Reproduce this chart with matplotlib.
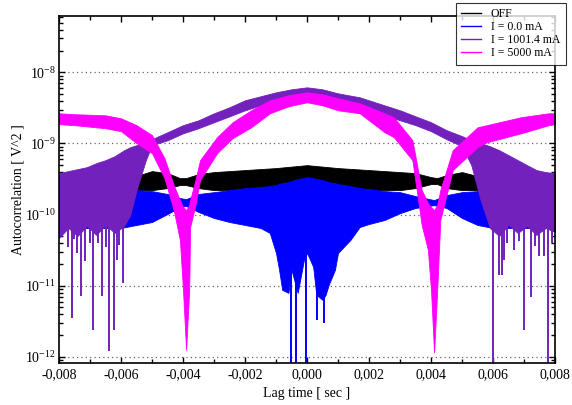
import numpy as np
import matplotlib
matplotlib.use("Agg")
import matplotlib.pyplot as plt
from matplotlib.lines import Line2D
from matplotlib.ticker import FuncFormatter, MultipleLocator, LogLocator, NullFormatter, FixedLocator

# envelope of each autocorrelation trace (upper / lower edge of the dense oscillation)
off_x = [-0.008, -0.0055, -0.005, -0.0045, -0.0041, -0.0039, -0.0035, -0.003, -0.002, -0.001, 0.0,
         0.001, 0.002, 0.003, 0.0035, 0.004, 0.0042, 0.0045, 0.005, 0.0055, 0.008]
off_hi = [3.48e-10, 3.48e-10, 4.09e-10, 3.83e-10, 3.26e-10, 3.26e-10, 3.71e-10, 3.96e-10, 4.23e-10, 4.51e-10, 4.96e-10,
          4.51e-10, 4.23e-10, 3.96e-10, 3.83e-10, 3.37e-10, 3.26e-10, 3.59e-10, 3.96e-10, 3.48e-10, 3.48e-10]
off_lo = [2.21e-10, 2.21e-10, 2.21e-10, 2.36e-10, 2.60e-10, 2.60e-10, 2.36e-10, 2.21e-10, 2.21e-10, 2.21e-10, 2.21e-10,
          2.21e-10, 2.21e-10, 2.21e-10, 2.36e-10, 2.69e-10, 2.69e-10, 2.36e-10, 2.21e-10, 2.21e-10, 2.21e-10]

i0_x = [-0.008, -0.006, -0.0055, -0.005, -0.0045, -0.0041, -0.0039, -0.0035, -0.003, -0.0025,
        -0.002, -0.0015, -0.0012, -0.001, -0.0009, -0.0008, -0.0006, -0.0005, -0.0003, -0.0001,
        0.0, 0.0002, 0.0003, 0.0005, 0.0006, 0.0007, 0.0009, 0.001, 0.0014, 0.0017,
        0.002, 0.0025, 0.003, 0.0035, 0.0041, 0.0045, 0.005, 0.0055, 0.006, 0.008]
i0_hi = [2.07e-10, 2.21e-10, 2.21e-10, 2.14e-10, 1.95e-10, 1.71e-10, 1.65e-10, 1.95e-10, 2.07e-10, 2.21e-10,
         2.36e-10, 2.44e-10, 2.52e-10, 2.60e-10, 2.69e-10, 2.77e-10, 2.86e-10, 2.96e-10, 3.16e-10, 3.26e-10,
         3.37e-10, 3.26e-10, 3.16e-10, 3.06e-10, 2.96e-10, 2.86e-10, 2.77e-10, 2.69e-10, 2.52e-10, 2.36e-10,
         2.29e-10, 2.14e-10, 2.07e-10, 1.82e-10, 1.60e-10, 1.88e-10, 2.07e-10, 2.14e-10, 2.21e-10, 2.07e-10]
i0_lo = [6.49e-11, 6.49e-11, 7.15e-11, 7.87e-11, 1.02e-10, 1.28e-10, 1.32e-10, 1.09e-10, 8.96e-11, 7.87e-11,
         7.15e-11, 6.49e-11, 5.52e-11, 2.89e-11, 1.67e-11, 8.75e-12, 7.94e-12, 1.67e-11, 7.94e-12, 2.31e-11,
         2.89e-11, 1.84e-11, 7.45e-12, 6.34e-12, 7.45e-12, 1.03e-11, 1.67e-11, 2.89e-11, 4.41e-11, 6.70e-11,
         7.38e-11, 8.40e-11, 1.05e-10, 1.24e-10, 1.36e-10, 1.24e-10, 8.96e-11, 7.15e-11, 6.49e-11, 6.49e-11]
i0_spike_x = [-0.00053, -0.00034, -0.00002, 0.00031, 0.00055]
i0_spike_y = [5e-13, 5e-13, 5e-13, 3.3e-12, 3.0e-12]

i1_x = [-0.008, -0.0077, -0.0074, -0.0071, -0.0068, -0.0065, -0.0062, -0.0059, -0.0057, -0.0055,
        -0.0052, -0.005, -0.0045, -0.004, -0.0035, -0.003, -0.0025, -0.002, -0.0015, -0.001,
        -0.0005, 0.0, 0.0005, 0.001, 0.0017, 0.0025, 0.003, 0.0035, 0.004, 0.0045,
        0.005, 0.0053, 0.0056, 0.0059, 0.0062, 0.0065, 0.0068, 0.0071, 0.0074, 0.0077, 0.008]
i1_hi = [3.83e-10, 4.09e-10, 4.36e-10, 4.65e-10, 5.29e-10, 5.83e-10, 6.64e-10, 8.05e-10, 8.87e-10, 9.46e-10,
         1.04e-9, 1.15e-9, 1.44e-9, 1.81e-9, 2.12e-9, 2.66e-9, 3.23e-9, 4.05e-9, 4.61e-9, 5.24e-9,
         5.78e-9, 6.16e-9, 5.78e-9, 5.07e-9, 4.46e-9, 3.44e-9, 2.93e-9, 2.41e-9, 1.99e-9, 1.54e-9,
         1.27e-9, 1.11e-9, 1.01e-9, 9.16e-10, 8.05e-10, 6.85e-10, 5.83e-10, 4.96e-10, 4.23e-10, 3.96e-10, 3.83e-10]
i1_lo = [4.70e-11, 6.49e-11, 5.01e-11, 6.92e-11, 5.18e-11, 7.15e-11, 5.52e-11, 6.92e-11, 9.87e-11, 2.21e-10,
         5.83e-10, 9.46e-10, 1.11e-9, 1.39e-9, 1.64e-9, 1.99e-9, 2.41e-9, 2.93e-9, 3.44e-9, 4.05e-9,
         4.61e-9, 5.07e-9, 4.61e-9, 3.92e-9, 3.44e-9, 2.49e-9, 2.12e-9, 1.81e-9, 1.49e-9, 1.15e-9,
         9.16e-10, 4.96e-10, 1.60e-10, 6.49e-11, 5.01e-11, 7.15e-11, 5.52e-11, 6.92e-11, 5.18e-11, 6.49e-11, 5.70e-11]
i1_spike_x = [-0.00772, -0.00759, -0.00752, -0.00743, -0.00729, -0.00716, -0.00700, -0.00689, -0.00673,
              -0.00662, -0.00650, -0.00639, -0.00623, -0.00614, -0.00605, -0.00593,
              0.00599, 0.00618, 0.00630, 0.00635, 0.00645, 0.00668, 0.00685, 0.00700, 0.00723,
              0.00735, 0.00749, 0.00764, 0.00778, 0.00790]
i1_spike_y = [3.5e-11, 3.5e-12, 4.5e-11, 2.9e-11, 7.1e-12, 2.2e-11, 4.0e-11, 2.4e-12, 4.0e-11,
              7.1e-12, 3.5e-11, 1.2e-12, 2.4e-12, 2.3e-11, 3.8e-11, 1.1e-11,
              5e-13, 1.4e-11, 1.4e-11, 2.3e-11, 4.0e-11, 3.2e-11, 4.2e-11, 2.4e-12, 7.0e-12,
              3.6e-11, 2.6e-11, 2.6e-11, 5e-13, 4.0e-11]

i5_x = [-0.008, -0.0075, -0.0065, -0.006, -0.0055, -0.005, -0.0046, -0.0043, -0.0041, -0.004,
        -0.0039, -0.0038, -0.00377, -0.0036, -0.00345, -0.0029, -0.0024, -0.0018, -0.0012, -0.0006,
        0.0, 0.0005, 0.001, 0.0017, 0.0025, 0.0028, 0.0034, 0.0037, 0.0039, 0.004,
        0.0041, 0.0042, 0.0043, 0.0047, 0.0055, 0.0058, 0.0069, 0.0078, 0.008]
i5_hi = [2.66e-9, 2.58e-9, 2.49e-9, 2.26e-9, 1.81e-9, 1.31e-9, 6.22e-10, 2.60e-10, 1.60e-10, 1.28e-10,
         1.16e-10, 1.36e-10, 1.60e-10, 3.06e-10, 5.83e-10, 1.23e-9, 1.99e-9, 2.93e-9, 4.05e-9, 4.76e-9,
         5.24e-9, 4.91e-9, 4.32e-9, 3.67e-9, 2.66e-9, 2.34e-9, 1.11e-9, 2.21e-10, 1.45e-10, 1.28e-10,
         1.16e-10, 1.36e-10, 2.21e-10, 8.05e-10, 1.69e-9, 1.81e-9, 2.34e-9, 2.66e-9, 2.66e-9]
i5_lo = [1.87e-9, 1.81e-9, 1.64e-9, 1.49e-9, 1.01e-9, 7.31e-10, 3.26e-10, 1.16e-10, 4.41e-11, 8.75e-12,
         1.26e-12, 8.75e-12, 6.70e-11, 1.36e-10, 3.06e-10, 7.31e-10, 1.19e-9, 1.69e-9, 2.66e-9, 3.33e-9,
         3.80e-9, 3.44e-9, 2.93e-9, 2.66e-9, 1.44e-9, 1.23e-9, 5.83e-10, 7.15e-11, 3.19e-11, 8.75e-12,
         1.15e-12, 8.75e-12, 8.40e-11, 4.23e-10, 8.87e-10, 1.04e-9, 1.39e-9, 1.81e-9, 1.87e-9]

y_ticks = [1e-12, 1e-11, 1e-10, 1e-9, 1e-8]

series = [
    ("OFF", "black", off_x, off_hi, off_lo),
    ("I = 0.0 mA", "#0000ff", i0_x, i0_hi, i0_lo),
    ("I = 1001.4 mA", "#7221bc", i1_x, i1_hi, i1_lo),
    ("I = 5000 mA", "#ff00ff", i5_x, i5_hi, i5_lo),
]

plt.rcParams["font.family"] = ["Liberation Serif", "DejaVu Serif"]
plt.rcParams["font.size"] = 10

fig = plt.figure(figsize=(5.72, 4.05), dpi=100)
ax = fig.add_axes([59 / 572, 1 - 363 / 405, 496 / 572, 347 / 405])

handles = []
for label, color, xs, hi, lo in series:
    ax.fill_between(xs, lo, hi, color=color, lw=0.6, edgecolor=color)
    handles.append(Line2D([], [], color=color, lw=1.0, label=label))
    if label == "I = 0.0 mA":
        ax.vlines(i0_spike_x, i0_spike_y, 2e-10, color=color, lw=1.4)
    if label == "I = 1001.4 mA":
        ax.vlines(i1_spike_x, i1_spike_y, 1.5e-10, color=color, lw=1.4)

ax.set_yscale("log")
ax.set_xlim(-0.008, 0.008)
ax.set_ylim(8.2e-13, 6.2e-8)

ax.xaxis.set_major_locator(MultipleLocator(0.002))
ax.xaxis.set_minor_locator(MultipleLocator(0.001))
ax.xaxis.set_major_formatter(FuncFormatter(lambda v, p: f"{v:.3f}".replace(".", ",").replace("-0,000", "0,000")))
ax.yaxis.set_major_locator(FixedLocator(y_ticks))
ax.yaxis.set_minor_locator(LogLocator(base=10, subs=np.arange(2, 10), numticks=20))
ax.yaxis.set_minor_formatter(NullFormatter())

ax.tick_params(which="both", direction="in", top=True, right=True, width=1.0, labelsize=10)
ax.tick_params(which="major", length=4.5, pad=4)
ax.tick_params(axis="y", which="major", pad=2.5)
ax.tick_params(which="minor", length=3)
for sp in ax.spines.values():
    sp.set_linewidth(1.2)

ax.set_axisbelow(True)
ax.yaxis.grid(True, which="major", linestyle=(0, (1, 2.5)), color="0.4", lw=0.9)

ax.set_xlabel("Lag time [ sec ]", labelpad=4)
ax.set_ylabel("Autocorrelation [ V^2 ]")
ax.yaxis.set_label_coords(-0.069, 0.5)

leg = ax.legend(handles=handles, loc="upper left", bbox_to_anchor=(456 / 572, 1 - 3 / 405),
                bbox_transform=fig.transFigure, borderaxespad=0, fontsize=8.5, frameon=True,
                fancybox=False, handlelength=1.7, handletextpad=0.8, labelspacing=0.09,
                borderpad=0.45)
leg.get_frame().set_edgecolor("black")
leg.get_frame().set_linewidth(0.8)
leg.set_zorder(10)

fig.savefig("out.png", dpi=100)
